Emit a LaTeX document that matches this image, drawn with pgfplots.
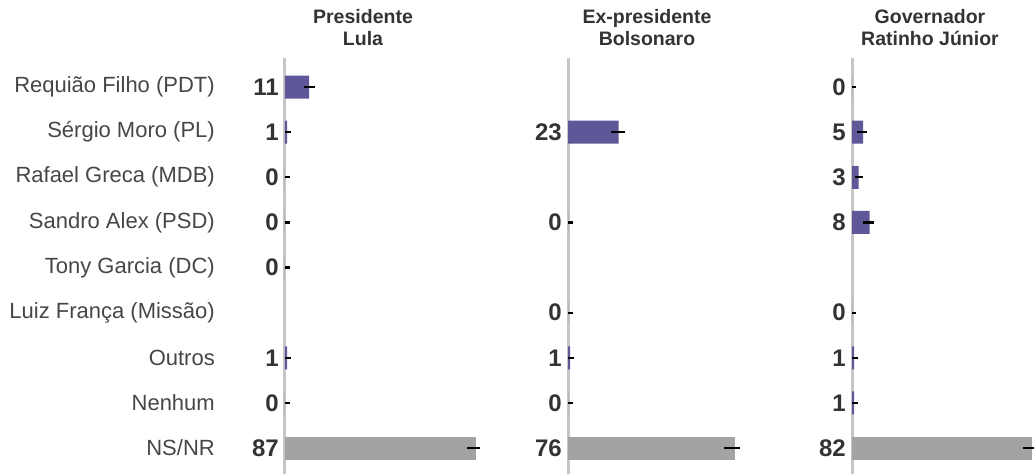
\documentclass[border=0pt]{standalone}
\usepackage{fontspec}
\setmainfont{Liberation Sans}
\usepackage{pgfplots}
\usepackage{pgfplotstable}
\pgfplotsset{compat=1.18}
\definecolor{barpurple}{HTML}{5E5898}
\definecolor{bargray}{HTML}{A3A3A3}
\definecolor{zline}{HTML}{C6C6C6}
\definecolor{txt}{HTML}{333333}
\definecolor{cattxt}{HTML}{464646}

% Presidente Lula
\pgfplotstableread{
r v em ep
0 11 2.4 2.6
1 1 1 1.6
2 0 0 2.2
3 0 0 2.2
4 0 0 2.2
6 1 1 1.6
7 0 0 2.2
}\lulaP
\pgfplotstableread{
r v em ep
8 87 4.5 1.5
}\lulaG
% Ex-presidente Bolsonaro
\pgfplotstableread{
r v em ep
1 23 3.5 3
3 0 0 2.2
5 0 0 2.2
6 1 1 1.6
7 0 0 2.2
}\bolsoP
\pgfplotstableread{
r v em ep
8 76 5 2
}\bolsoG
% Governador Ratinho Junior
\pgfplotstableread{
r v em ep
0 0 0 2
1 5 2.7 1.8
2 3 1.6 2
3 8 3 2
5 0 0 2
6 1 1 1.6
7 1 1 1.6
}\ratP
\pgfplotstableread{
r v em ep
8 82 4.3 2.5
}\ratG

\pgfplotsset{
  panel/.style={
    scale only axis, width=220pt, height=416.2pt,
    xmin=0, xmax=100, ymin=-0.643, ymax=8.58, y dir=reverse,
    axis x line=none, axis y line*=left,
    y axis line style={-, draw=zline, line width=3pt},
    xtick=\empty, ytick=\empty, major tick length=0pt,
    clip=false, anchor=north west,
    /pgf/number format/assume math mode=true,
  },
  valbar/.style={xbar, bar width=23pt, bar shift=0pt, draw=none, fill=#1,
    error bars/.cd, x dir=both, x explicit, error mark=none,
    error bar style={line width=2.2pt, black}},
  vallab/.style={draw=none, mark=none, nodes near coords, point meta=explicit,
    every node near coord/.append style={anchor=east, inner sep=0pt, xshift=-6pt,
      font=\bfseries\fontsize{24}{24}\selectfont, text=txt}},
}

\begin{document}
\begin{tikzpicture}
\path[use as bounding box] (0pt,0pt) rectangle (1034pt,-474pt);

\begin{axis}[panel, at={(285pt,-58pt)},
  ytick={0,...,8},
  yticklabels={Requião Filho (PDT), Sérgio Moro (PL), Rafael Greca (MDB), Sandro Alex (PSD), Tony Garcia (DC), Luiz França (Missão), Outros, Nenhum, NS/NR},
  yticklabel style={font=\fontsize{22}{22}\selectfont, text=cattxt, anchor=east, inner sep=0pt, xshift=-70pt},
  ytick style={draw=none}]
\addplot[valbar=barpurple] table[x=v, y=r, x error plus=ep, x error minus=em] {\lulaP};
\addplot[valbar=bargray] table[x=v, y=r, x error plus=ep, x error minus=em] {\lulaG};
\addplot[vallab] table[x expr=0, y=r, meta=v] {\lulaP};
\addplot[vallab] table[x expr=0, y=r, meta=v] {\lulaG};
\end{axis}

\begin{axis}[panel, at={(568pt,-58pt)}]
\addplot[valbar=barpurple] table[x=v, y=r, x error plus=ep, x error minus=em] {\bolsoP};
\addplot[valbar=bargray] table[x=v, y=r, x error plus=ep, x error minus=em] {\bolsoG};
\addplot[vallab] table[x expr=0, y=r, meta=v] {\bolsoP};
\addplot[vallab] table[x expr=0, y=r, meta=v] {\bolsoG};
\end{axis}

\begin{axis}[panel, at={(852pt,-58pt)}]
\addplot[valbar=barpurple] table[x=v, y=r, x error plus=ep, x error minus=em] {\ratP};
\addplot[valbar=bargray] table[x=v, y=r, x error plus=ep, x error minus=em] {\ratG};
\addplot[vallab] table[x expr=0, y=r, meta=v] {\ratP};
\addplot[vallab] table[x expr=0, y=r, meta=v] {\ratG};
\end{axis}

\begin{scope}[every node/.style={font=\bfseries\fontsize{19.5}{19.5}\selectfont, text=txt, anchor=base, inner sep=0pt}]
\node at (363pt,-23pt) {Presidente};
\node at (363pt,-45pt) {Lula};
\node at (647pt,-23pt) {Ex-presidente};
\node at (647pt,-45pt) {Bolsonaro};
\node at (930pt,-23pt) {Governador};
\node at (930pt,-45pt) {Ratinho Júnior};
\end{scope}
\end{tikzpicture}
\end{document}
